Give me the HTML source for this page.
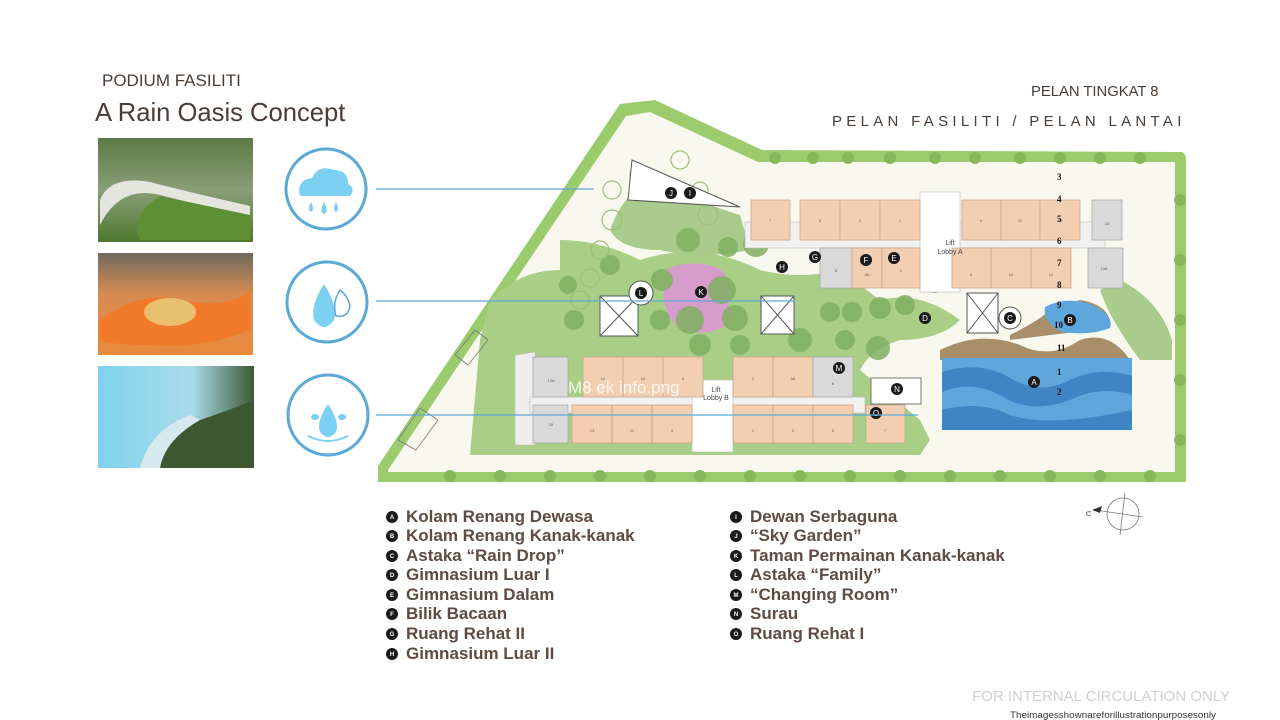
<!DOCTYPE html>
<html><head><meta charset="utf-8"><style>
html,body{margin:0;padding:0;background:#fff;}
svg{display:block;font-family:"Liberation Sans",sans-serif;}
.u{fill:#f3cfb2;stroke:#c7a487;stroke-width:.8}
.g{fill:#d9d9d9;stroke:#aaa;stroke-width:.8}
.t{font-size:4px;fill:#555;text-anchor:middle}
.lt{font-size:17px;font-weight:bold;fill:#5e4b43}
.bl{fill:#1a1a1a}
.bt{font-size:6px;fill:#fff;text-anchor:middle;font-weight:bold}
.mk{fill:#1a1a1a}
.mt{font-size:8px;fill:#fff;text-anchor:middle}
.tr{fill:#7fb061;opacity:.85}
.tr2{fill:#a9cc8c}
.num{font-size:9px;fill:#111;font-family:"Liberation Serif",serif;font-weight:bold}
</style></head><body>
<svg width="1280" height="720" viewBox="0 0 1280 720">
<defs>
<linearGradient id="i1" x1="0" y1="0" x2="0" y2="1"><stop offset="0" stop-color="#5c7a45"/><stop offset=".5" stop-color="#8a9e78"/><stop offset="1" stop-color="#4d7a2e"/></linearGradient>
<linearGradient id="i2" x1="0" y1="0" x2="0" y2="1"><stop offset="0" stop-color="#6f6a5e"/><stop offset=".4" stop-color="#d68b52"/><stop offset="1" stop-color="#e98a3c"/></linearGradient>
<linearGradient id="i3" x1="0" y1="0" x2="1" y2="0"><stop offset="0" stop-color="#7fd2ee"/><stop offset=".6" stop-color="#a9dcea"/><stop offset="1" stop-color="#3f5a35"/></linearGradient>
</defs>
<text x="102" y="86" font-size="17" fill="#4a3c36">PODIUM FASILITI</text>
<text x="95" y="121" font-size="25.6" fill="#4a3c36">A Rain Oasis Concept</text>
<text x="1031" y="96" font-size="14.8" fill="#4a3c36">PELAN TINGKAT 8</text>
<text x="832" y="126" font-size="15" fill="#4a3c36" letter-spacing="4.3">PELAN FASILITI / PELAN LANTAI</text>
<rect x="98" y="138" width="155" height="104" fill="url(#i1)"/>
<path d="M100 225 Q120 185 160 195 Q200 205 250 218 L250 206 Q180 190 150 182 Q110 175 100 200Z" fill="#e5e5e0"/>
<path d="M160 196 L250 215 L250 240 L140 240 Q130 215 160 196Z" fill="#5f8f35"/>
<rect x="98" y="253" width="155" height="102" fill="url(#i2)"/>
<path d="M100 320 Q140 290 180 300 Q230 310 250 290 L250 330 Q200 350 150 345 Q110 345 100 340Z" fill="#f07a2a"/>
<ellipse cx="170" cy="312" rx="26" ry="14" fill="#e8c070"/>
<rect x="98" y="366" width="156" height="102" fill="url(#i3)"/>
<path d="M150 468 Q170 430 200 420 Q230 410 254 400 L254 468Z" fill="#3d5830"/>
<path d="M140 468 Q150 430 190 415 L200 420 Q165 440 160 468Z" fill="#d7e9ee"/>
<g fill="none" stroke="#5ba9d6" stroke-width="3">
<circle cx="326" cy="189" r="40"/><circle cx="327" cy="302" r="40"/><circle cx="328" cy="415" r="40"/>
</g>
<g fill="#7cd0f2">
<path d="M300 196 Q296 180 312 178 Q318 164 334 170 Q348 170 348 184 Q356 188 350 196Z"/>
<path d="M311 202 q-4 8 0 10 q4 -2 0 -10z"/><path d="M324 202 q-5 10 0 12 q5 -2 0 -12z"/><path d="M336 202 q-4 8 0 10 q4 -2 0 -10z"/>
<path d="M324 284 Q310 306 314 320 Q324 334 334 320 Q338 306 324 284Z"/>
<path d="M328 404 Q316 422 320 432 Q328 442 336 432 Q340 422 328 404Z"/>
<ellipse cx="315" cy="417" rx="4" ry="3"/><ellipse cx="342" cy="417" rx="4" ry="3"/>
</g>
<path d="M340 290 Q332 302 336 316 Q348 318 350 306 Q348 296 340 290Z" fill="none" stroke="#5ba9d6" stroke-width="1.5"/>
<path d="M308 436 Q328 446 348 436" fill="none" stroke="#7cd0f2" stroke-width="2"/>
<path d="M378 478 L378 466 L620 104 L655 100 L762 150 L1182 152 Q1186 154 1186 160 L1186 482 L378 482Z" fill="#9ccb6e"/>
<path d="M388 470 L626 116 L650 112 L758 162 L1175 162 L1175 472 L388 472Z" fill="#f9f8ef"/>
<g class="tr2">
<path d="M490 300 Q520 270 560 270 L560 240 Q600 240 640 260 Q700 240 760 270 Q800 280 840 270 L880 300 Q920 290 960 320 Q940 340 900 340 Q870 350 860 370 L920 420 L930 440 L920 455 L470 455 L480 340Z" fill="#a8cf85"/>
<path d="M650 175 Q690 200 740 215 L750 250 Q700 260 660 250 Q620 250 610 230 Q620 200 650 175Z"/>
<path d="M1120 280 Q1160 300 1172 340 L1172 360 L1140 360 Q1110 320 1100 290Z"/>
</g>
<path d="M665 270 Q690 258 718 268 Q740 285 728 305 Q740 325 710 332 Q680 335 670 318 Q660 300 665 270Z" fill="#d79ccc"/>
<g class="tr">
<circle cx="688" cy="240" r="12"/><circle cx="756" cy="244" r="13"/><circle cx="728" cy="247" r="10"/><circle cx="662" cy="280" r="11"/><circle cx="722" cy="290" r="14"/><circle cx="735" cy="318" r="13"/><circle cx="690" cy="320" r="14"/><circle cx="660" cy="320" r="10"/><circle cx="830" cy="312" r="10"/><circle cx="852" cy="312" r="10"/><circle cx="880" cy="308" r="11"/><circle cx="905" cy="305" r="10"/><circle cx="800" cy="340" r="12"/><circle cx="845" cy="340" r="10"/><circle cx="878" cy="348" r="12"/><circle cx="700" cy="345" r="11"/><circle cx="740" cy="345" r="10"/><circle cx="574" cy="320" r="10"/><circle cx="568" cy="285" r="9"/><circle cx="935" cy="285" r="8"/><circle cx="610" cy="265" r="10"/>
</g>
<g fill="none" stroke="#9dbd7d" stroke-width="1.2">
<circle cx="640" cy="175" r="10"/><circle cx="680" cy="160" r="9"/><circle cx="612" cy="220" r="10"/><circle cx="600" cy="250" r="9"/><circle cx="590" cy="278" r="9"/><circle cx="580" cy="300" r="9"/><circle cx="612" cy="190" r="9"/><circle cx="708" cy="215" r="10"/><circle cx="700" cy="190" r="8"/>
</g>
<g fill="#86b85b">
<circle cx="775" cy="158" r="6"/><circle cx="813" cy="158" r="6"/><circle cx="848" cy="158" r="6"/><circle cx="890" cy="158" r="6"/><circle cx="935" cy="158" r="6"/><circle cx="975" cy="158" r="6"/><circle cx="1020" cy="158" r="6"/><circle cx="1060" cy="158" r="6"/><circle cx="1100" cy="158" r="6"/><circle cx="1140" cy="158" r="6"/>
<circle cx="450" cy="476" r="6"/><circle cx="500" cy="476" r="6"/><circle cx="550" cy="476" r="6"/><circle cx="600" cy="476" r="6"/><circle cx="650" cy="476" r="6"/><circle cx="700" cy="476" r="6"/><circle cx="750" cy="476" r="6"/><circle cx="800" cy="476" r="6"/><circle cx="850" cy="476" r="6"/><circle cx="900" cy="476" r="6"/><circle cx="950" cy="476" r="6"/><circle cx="1000" cy="476" r="6"/><circle cx="1050" cy="476" r="6"/><circle cx="1100" cy="476" r="6"/><circle cx="1150" cy="476" r="6"/>
<circle cx="1180" cy="200" r="6"/><circle cx="1180" cy="260" r="6"/><circle cx="1180" cy="320" r="6"/><circle cx="1180" cy="380" r="6"/><circle cx="1180" cy="440" r="6"/>
</g>
<path d="M632 160 L740 207 L628 200Z" fill="#fff" stroke="#555" stroke-width="1"/>
<path d="M398 440 L420 408 L438 420 L416 450Z" fill="none" stroke="#777" stroke-width=".8"/>
<path d="M455 355 L475 330 L488 340 L468 365Z" fill="none" stroke="#777" stroke-width=".8"/>
<rect x="600" y="296" width="38" height="40" fill="#fff" stroke="#555"/><path d="M600 296 L638 336 M638 296 L600 336" stroke="#555"/>
<rect x="761" y="296" width="33" height="38" fill="#fff" stroke="#555"/><path d="M761 296 L794 334 M794 296 L761 334" stroke="#555"/>
<rect x="967" y="293" width="31" height="40" fill="#fff" stroke="#555"/><path d="M967 293 L998 333 M998 293 L967 333" stroke="#555"/>
<circle cx="641" cy="293" r="12" fill="#fff" stroke="#555"/>
<circle cx="1010" cy="318" r="11" fill="#fff" stroke="#555"/>
<path d="M940 350 Q980 330 1020 345 Q1050 360 1080 340 Q1110 330 1130 360 L940 360Z" fill="#a88f6a"/>
<rect x="942" y="358" width="190" height="72" fill="#5fa6dc"/>
<path d="M942 372 Q980 360 1010 378 Q1040 396 1070 380 Q1100 366 1132 376 L1132 395 Q1100 385 1070 400 Q1030 415 1000 395 Q970 380 942 392Z" fill="#3f84c4"/>
<path d="M942 410 Q980 400 1010 415 Q1050 428 1132 410 L1132 430 L942 430Z" fill="#3f84c4"/>
<path d="M1010 335 Q1040 320 1050 310 L1080 300 Q1110 305 1110 325 Q1100 335 1075 332 Q1050 335 1010 340Z" fill="#a88f6a"/>
<path d="M1045 307 Q1065 296 1090 304 Q1115 315 1110 328 Q1090 336 1062 332 Q1042 322 1045 307Z" fill="#5fa6dc"/>
<rect x="871" y="378" width="50" height="26" fill="#fff" stroke="#555" stroke-width=".8"/>
<rect x="745" y="222" width="360" height="26" fill="#f1f1f1" stroke="#bbb" stroke-width=".6"/>
<rect x="920" y="192" width="40" height="100" fill="#fff" stroke="#bbb" stroke-width=".6"/>
<g>
<rect class="u" x="751" y="200" width="39" height="40"/><rect class="u" x="800" y="200" width="40" height="40"/><rect class="u" x="840" y="200" width="40" height="40"/><rect class="u" x="880" y="200" width="40" height="40"/>
<rect class="u" x="962" y="200" width="39" height="40"/><rect class="u" x="1001" y="200" width="39" height="40"/><rect class="u" x="1040" y="200" width="40" height="40"/><rect class="g" x="1092" y="200" width="30" height="40"/>
<rect class="g" x="820" y="248" width="32" height="40"/><rect class="u" x="852" y="248" width="30" height="40"/><rect class="u" x="882" y="248" width="38" height="40"/>
<rect class="u" x="952" y="248" width="39" height="40"/><rect class="u" x="991" y="248" width="40" height="40"/><rect class="u" x="1031" y="248" width="40" height="40"/><rect class="g" x="1088" y="248" width="35" height="40"/>
</g>
<g class="t">
<text x="770" y="222">7</text><text x="820" y="222">5</text><text x="860" y="222">3</text><text x="900" y="222">1</text><text x="981" y="222">9</text><text x="1020" y="222">11</text><text x="1060" y="222">13</text><text x="1107" y="225">15</text>
<text x="836" y="272">6</text><text x="867" y="276">3A</text><text x="901" y="272">2</text><text x="971" y="276">8</text><text x="1011" y="276">10</text><text x="1051" y="276">12</text><text x="1104" y="270">13A</text>
</g>
<text x="950" y="245" font-size="7" fill="#444" text-anchor="middle">Lift</text><text x="950" y="254" font-size="7" fill="#444" text-anchor="middle">Lobby A</text>
<path d="M515 355 L535 352 L535 445 L515 445Z" fill="#eee" stroke="#bbb" stroke-width=".6"/>
<rect x="530" y="397" width="335" height="16" fill="#f1f1f1" stroke="#bbb" stroke-width=".6"/>
<rect x="692" y="380" width="41" height="72" fill="#fff" stroke="#bbb" stroke-width=".6"/>
<rect class="g" x="533" y="357" width="35" height="40"/><rect class="u" x="583" y="357" width="40" height="40"/><rect class="u" x="623" y="357" width="40" height="40"/><rect class="u" x="663" y="357" width="40" height="40"/>
<rect class="u" x="733" y="357" width="40" height="40"/><rect class="u" x="773" y="357" width="40" height="40"/><rect class="g" x="813" y="357" width="40" height="40"/>
<rect class="g" x="533" y="405" width="35" height="38"/><rect class="u" x="572" y="405" width="40" height="38"/><rect class="u" x="612" y="405" width="40" height="38"/><rect class="u" x="652" y="405" width="40" height="38"/>
<rect class="u" x="733" y="405" width="40" height="38"/><rect class="u" x="773" y="405" width="40" height="38"/><rect class="u" x="813" y="405" width="40" height="38"/><rect class="u" x="866" y="405" width="39" height="38"/>
<g class="t">
<text x="551" y="382">13A</text><text x="603" y="380">12</text><text x="643" y="380">10</text><text x="683" y="380">8</text><text x="753" y="380">2</text><text x="793" y="380">3A</text><text x="833" y="385">6</text>
<text x="551" y="426">15</text><text x="592" y="432">13</text><text x="632" y="432">11</text><text x="672" y="432">9</text><text x="753" y="432">1</text><text x="793" y="432">3</text><text x="833" y="432">5</text><text x="885" y="432">7</text>
</g>
<text x="716" y="392" font-size="7" fill="#444" text-anchor="middle">Lift</text><text x="716" y="400" font-size="7" fill="#444" text-anchor="middle">Lobby B</text>
<text x="568" y="393" font-size="17" fill="#fff" opacity=".85">M8 ek info.png</text>
<g>
<circle class="mk" cx="671" cy="193" r="6"/><text class="mt" x="671" y="196">J</text>
<circle class="mk" cx="690" cy="193" r="6"/><text class="mt" x="690" y="196">I</text>
<circle class="mk" cx="641" cy="293" r="6"/><text class="mt" x="641" y="296">L</text>
<circle class="mk" cx="701" cy="292" r="6"/><text class="mt" x="701" y="295">K</text>
<circle class="mk" cx="782" cy="267" r="6"/><text class="mt" x="782" y="270">H</text>
<circle class="mk" cx="815" cy="257" r="6"/><text class="mt" x="815" y="260">G</text>
<circle class="mk" cx="866" cy="260" r="6"/><text class="mt" x="866" y="263">F</text>
<circle class="mk" cx="894" cy="258" r="6"/><text class="mt" x="894" y="261">E</text>
<circle class="mk" cx="925" cy="318" r="6"/><text class="mt" x="925" y="321">D</text>
<circle class="mk" cx="1010" cy="318" r="6"/><text class="mt" x="1010" y="321">C</text>
<circle class="mk" cx="1070" cy="320" r="6"/><text class="mt" x="1070" y="323">B</text>
<circle class="mk" cx="1034" cy="382" r="6"/><text class="mt" x="1034" y="385">A</text>
<circle class="mk" cx="839" cy="368" r="6"/><text class="mt" x="839" y="371">M</text>
<circle class="mk" cx="897" cy="389" r="6"/><text class="mt" x="897" y="392">N</text>
<circle class="mk" cx="876" cy="413" r="6"/><text class="mt" x="876" y="416">O</text>
</g>
<g class="num">
<text x="1057" y="180">3</text><text x="1057" y="202">4</text><text x="1057" y="222">5</text><text x="1057" y="244">6</text><text x="1057" y="266">7</text><text x="1057" y="288">8</text><text x="1057" y="308">9</text><text x="1054" y="328">10</text><text x="1057" y="351">11</text><text x="1057" y="375">1</text><text x="1057" y="395">2</text>
</g>
<g stroke="#5ba9d6" stroke-width="1.2">
<line x1="376" y1="189" x2="594" y2="189"/><line x1="376" y1="301" x2="795" y2="301"/><line x1="376" y1="415" x2="918" y2="415"/>
</g>
<g fill="none" stroke="#777" stroke-width=".8">
<circle cx="1123" cy="514" r="16"/><line x1="1125" y1="493" x2="1120" y2="535"/><line x1="1095" y1="510" x2="1143" y2="517"/>
</g>
<path d="M1092 510 L1102 506 L1100 513Z" fill="#333"/>
<text x="1086" y="511" font-size="7" fill="#333" transform="rotate(90 1086 511)">U</text>
<g>
<circle class="bl" cx="392" cy="517" r="6"/><text class="bt" x="392" y="519">A</text><text class="lt" x="406" y="522">Kolam Renang Dewasa</text>
<circle class="bl" cx="392" cy="536" r="6"/><text class="bt" x="392" y="538">B</text><text class="lt" x="406" y="541">Kolam Renang Kanak-kanak</text>
<circle class="bl" cx="392" cy="556" r="6"/><text class="bt" x="392" y="558">C</text><text class="lt" x="406" y="561">Astaka “Rain Drop”</text>
<circle class="bl" cx="392" cy="575" r="6"/><text class="bt" x="392" y="577">D</text><text class="lt" x="406" y="580">Gimnasium Luar I</text>
<circle class="bl" cx="392" cy="595" r="6"/><text class="bt" x="392" y="597">E</text><text class="lt" x="406" y="600">Gimnasium Dalam</text>
<circle class="bl" cx="392" cy="614" r="6"/><text class="bt" x="392" y="616">F</text><text class="lt" x="406" y="619">Bilik Bacaan</text>
<circle class="bl" cx="392" cy="634" r="6"/><text class="bt" x="392" y="636">G</text><text class="lt" x="406" y="639">Ruang Rehat II</text>
<circle class="bl" cx="392" cy="654" r="6"/><text class="bt" x="392" y="656">H</text><text class="lt" x="406" y="659">Gimnasium Luar II</text>
<circle class="bl" cx="736" cy="517" r="6"/><text class="bt" x="736" y="519">I</text><text class="lt" x="750" y="522">Dewan Serbaguna</text>
<circle class="bl" cx="736" cy="536" r="6"/><text class="bt" x="736" y="538">J</text><text class="lt" x="750" y="541">“Sky Garden”</text>
<circle class="bl" cx="736" cy="556" r="6"/><text class="bt" x="736" y="558">K</text><text class="lt" x="750" y="561">Taman Permainan Kanak-kanak</text>
<circle class="bl" cx="736" cy="575" r="6"/><text class="bt" x="736" y="577">L</text><text class="lt" x="750" y="580">Astaka “Family”</text>
<circle class="bl" cx="736" cy="595" r="6"/><text class="bt" x="736" y="597">M</text><text class="lt" x="750" y="600">“Changing Room”</text>
<circle class="bl" cx="736" cy="614" r="6"/><text class="bt" x="736" y="616">N</text><text class="lt" x="750" y="619">Surau</text>
<circle class="bl" cx="736" cy="634" r="6"/><text class="bt" x="736" y="636">O</text><text class="lt" x="750" y="639">Ruang Rehat I</text>
</g>
<text x="972" y="701" font-size="15" fill="#d0d0d0">FOR INTERNAL CIRCULATION ONLY</text>
<text x="1010" y="718" font-size="9" fill="#333" textLength="206" lengthAdjust="spacingAndGlyphs">Theimagesshownareforillustrationpurposesonly</text>
</svg>
</body></html>
